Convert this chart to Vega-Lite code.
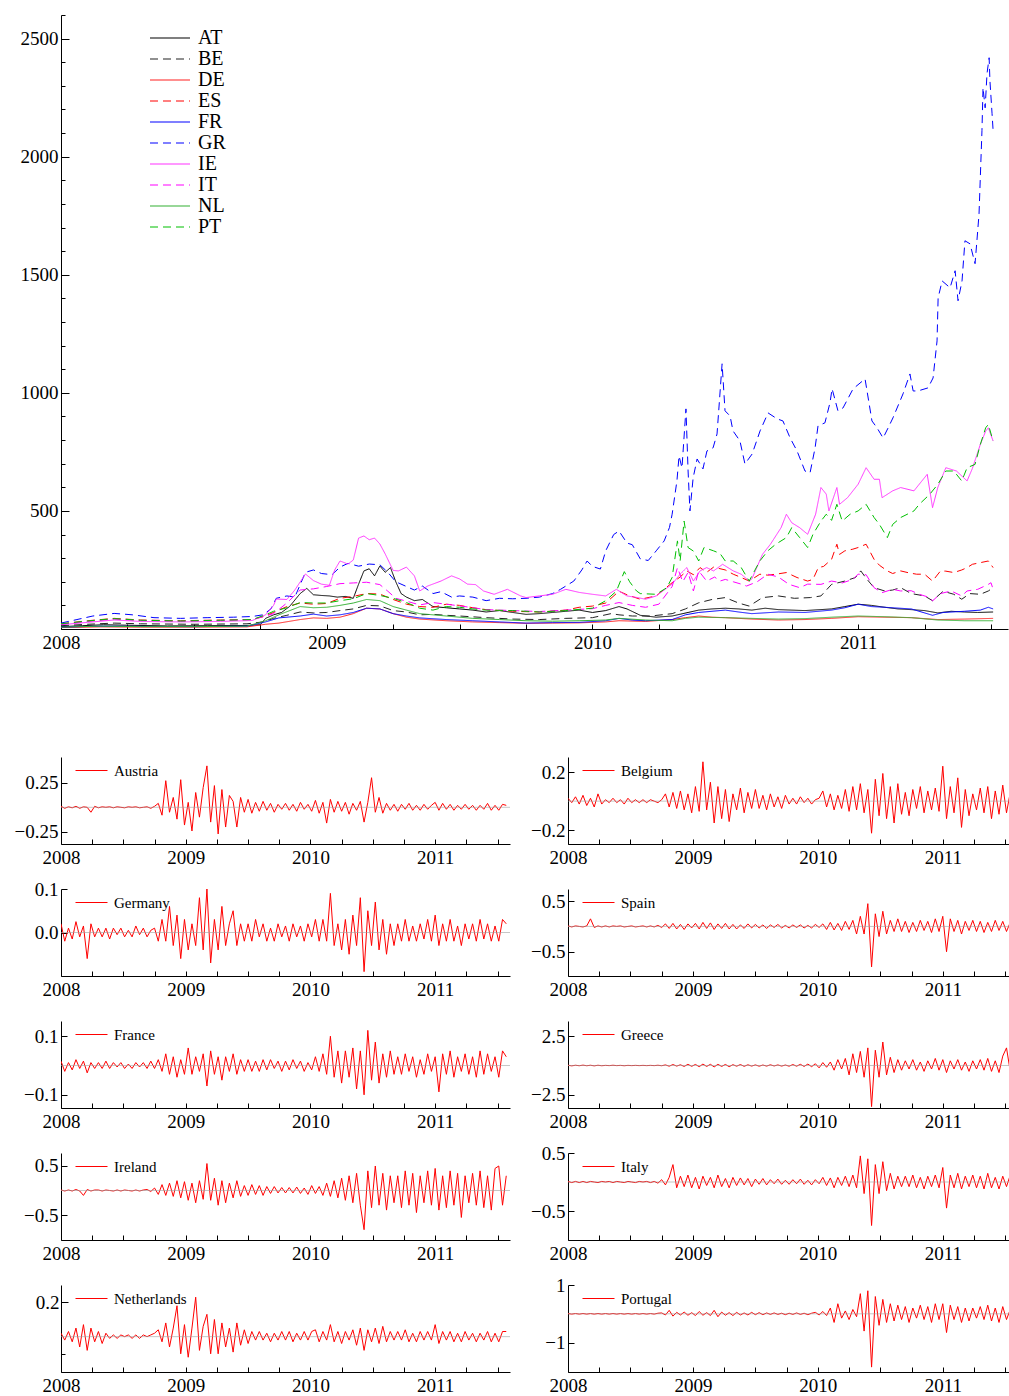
{
"$schema":"https://vega.github.io/schema/vega-lite/v6.json",
"padding":{"left":14,"top":6,"right":0,"bottom":2},
"config":{"font":"Liberation Serif","view":{"stroke":null},
 "axis":{"labelFont":"Liberation Serif","labelFontSize":19,"labelColor":"black","domainColor":"black","tickColor":"black","grid":false,"title":null,"labelFlush":false,"labelOverlap":false,"labelBound":false},
 "axisX":{"tickSize":-5,"labelPadding":9},
 "axisY":{"tickSize":-6,"labelPadding":9},
 "legend":{"orient":"none","legendX":14,"legendY":-3,"title":null,"symbolType":"stroke","symbolSize":1024,"symbolStrokeWidth":1,"labelFont":"Liberation Serif","labelFontSize":15,"labelColor":"black","labelOffset":6,"padding":0}
},
"datasets":{
"lv":[
{"s":"AT","t":2008,"v":10},{"s":"AT","t":2008.08,"v":14},{"s":"AT","t":2008.16,"v":18},{"s":"AT","t":2008.25,"v":16},{"s":"AT","t":2008.4,"v":13},{"s":"AT","t":2008.55,"v":14},{"s":"AT","t":2008.7,"v":15},{"s":"AT","t":2008.75,"v":18},{"s":"AT","t":2008.77,"v":45},{"s":"AT","t":2008.8,"v":60},{"s":"AT","t":2008.83,"v":70},{"s":"AT","t":2008.86,"v":95},{"s":"AT","t":2008.9,"v":150},{"s":"AT","t":2008.925,"v":172},{"s":"AT","t":2008.95,"v":145},{"s":"AT","t":2008.98,"v":142},{"s":"AT","t":2009.01,"v":140},{"s":"AT","t":2009.04,"v":135},{"s":"AT","t":2009.07,"v":138},{"s":"AT","t":2009.1,"v":130},{"s":"AT","t":2009.12,"v":190},{"s":"AT","t":2009.14,"v":246},{"s":"AT","t":2009.16,"v":255},{"s":"AT","t":2009.18,"v":225},{"s":"AT","t":2009.2,"v":267},{"s":"AT","t":2009.22,"v":240},{"s":"AT","t":2009.24,"v":260},{"s":"AT","t":2009.26,"v":200},{"s":"AT","t":2009.28,"v":150},{"s":"AT","t":2009.3,"v":135},{"s":"AT","t":2009.33,"v":120},{"s":"AT","t":2009.36,"v":125},{"s":"AT","t":2009.4,"v":95},{"s":"AT","t":2009.45,"v":90},{"s":"AT","t":2009.5,"v":85},{"s":"AT","t":2009.55,"v":80},{"s":"AT","t":2009.6,"v":72},{"s":"AT","t":2009.65,"v":78},{"s":"AT","t":2009.7,"v":70},{"s":"AT","t":2009.75,"v":62},{"s":"AT","t":2009.8,"v":65},{"s":"AT","t":2009.85,"v":70},{"s":"AT","t":2009.9,"v":75},{"s":"AT","t":2009.95,"v":80},{"s":"AT","t":2010,"v":70},{"s":"AT","t":2010.05,"v":78},{"s":"AT","t":2010.1,"v":95},{"s":"AT","t":2010.13,"v":85},{"s":"AT","t":2010.18,"v":58},{"s":"AT","t":2010.24,"v":50},{"s":"AT","t":2010.3,"v":55},{"s":"AT","t":2010.36,"v":70},{"s":"AT","t":2010.4,"v":80},{"s":"AT","t":2010.45,"v":85},{"s":"AT","t":2010.5,"v":88},{"s":"AT","t":2010.55,"v":85},{"s":"AT","t":2010.6,"v":80},{"s":"AT","t":2010.65,"v":88},{"s":"AT","t":2010.7,"v":82},{"s":"AT","t":2010.8,"v":78},{"s":"AT","t":2010.9,"v":85},{"s":"AT","t":2010.95,"v":95},{"s":"AT","t":2011,"v":105},{"s":"AT","t":2011.05,"v":100},{"s":"AT","t":2011.1,"v":92},{"s":"AT","t":2011.15,"v":85},{"s":"AT","t":2011.2,"v":82},{"s":"AT","t":2011.25,"v":78},{"s":"AT","t":2011.3,"v":68},{"s":"AT","t":2011.35,"v":75},{"s":"AT","t":2011.4,"v":72},{"s":"AT","t":2011.45,"v":70},{"s":"AT","t":2011.508,"v":72},
{"s":"BE","t":2008,"v":14},{"s":"BE","t":2008.1,"v":20},{"s":"BE","t":2008.2,"v":25},{"s":"BE","t":2008.3,"v":22},{"s":"BE","t":2008.5,"v":20},{"s":"BE","t":2008.7,"v":22},{"s":"BE","t":2008.76,"v":30},{"s":"BE","t":2008.8,"v":45},{"s":"BE","t":2008.85,"v":58},{"s":"BE","t":2008.9,"v":72},{"s":"BE","t":2008.95,"v":68},{"s":"BE","t":2009,"v":70},{"s":"BE","t":2009.05,"v":78},{"s":"BE","t":2009.1,"v":85},{"s":"BE","t":2009.15,"v":100},{"s":"BE","t":2009.2,"v":98},{"s":"BE","t":2009.25,"v":78},{"s":"BE","t":2009.3,"v":72},{"s":"BE","t":2009.35,"v":60},{"s":"BE","t":2009.4,"v":62},{"s":"BE","t":2009.45,"v":58},{"s":"BE","t":2009.5,"v":55},{"s":"BE","t":2009.6,"v":48},{"s":"BE","t":2009.7,"v":42},{"s":"BE","t":2009.8,"v":40},{"s":"BE","t":2009.9,"v":45},{"s":"BE","t":2010,"v":48},{"s":"BE","t":2010.07,"v":65},{"s":"BE","t":2010.1,"v":60},{"s":"BE","t":2010.15,"v":55},{"s":"BE","t":2010.22,"v":55},{"s":"BE","t":2010.3,"v":65},{"s":"BE","t":2010.35,"v":85},{"s":"BE","t":2010.4,"v":111},{"s":"BE","t":2010.45,"v":125},{"s":"BE","t":2010.5,"v":133},{"s":"BE","t":2010.55,"v":110},{"s":"BE","t":2010.59,"v":97},{"s":"BE","t":2010.64,"v":133},{"s":"BE","t":2010.7,"v":140},{"s":"BE","t":2010.76,"v":130},{"s":"BE","t":2010.82,"v":133},{"s":"BE","t":2010.86,"v":140},{"s":"BE","t":2010.9,"v":189},{"s":"BE","t":2010.95,"v":203},{"s":"BE","t":2010.99,"v":218},{"s":"BE","t":2011.01,"v":246},{"s":"BE","t":2011.03,"v":215},{"s":"BE","t":2011.06,"v":175},{"s":"BE","t":2011.1,"v":161},{"s":"BE","t":2011.13,"v":165},{"s":"BE","t":2011.16,"v":175},{"s":"BE","t":2011.2,"v":150},{"s":"BE","t":2011.25,"v":140},{"s":"BE","t":2011.28,"v":120},{"s":"BE","t":2011.32,"v":160},{"s":"BE","t":2011.36,"v":147},{"s":"BE","t":2011.39,"v":126},{"s":"BE","t":2011.42,"v":150},{"s":"BE","t":2011.46,"v":147},{"s":"BE","t":2011.49,"v":161},{"s":"BE","t":2011.508,"v":175},
{"s":"DE","t":2008,"v":6},{"s":"DE","t":2008.15,"v":9},{"s":"DE","t":2008.3,"v":8},{"s":"DE","t":2008.5,"v":8},{"s":"DE","t":2008.7,"v":9},{"s":"DE","t":2008.77,"v":20},{"s":"DE","t":2008.82,"v":25},{"s":"DE","t":2008.9,"v":40},{"s":"DE","t":2008.95,"v":47},{"s":"DE","t":2009,"v":45},{"s":"DE","t":2009.05,"v":50},{"s":"DE","t":2009.1,"v":65},{"s":"DE","t":2009.15,"v":88},{"s":"DE","t":2009.2,"v":85},{"s":"DE","t":2009.25,"v":65},{"s":"DE","t":2009.3,"v":50},{"s":"DE","t":2009.35,"v":42},{"s":"DE","t":2009.45,"v":35},{"s":"DE","t":2009.55,"v":30},{"s":"DE","t":2009.65,"v":27},{"s":"DE","t":2009.75,"v":24},{"s":"DE","t":2009.85,"v":25},{"s":"DE","t":2009.95,"v":26},{"s":"DE","t":2010.05,"v":30},{"s":"DE","t":2010.1,"v":35},{"s":"DE","t":2010.2,"v":32},{"s":"DE","t":2010.3,"v":40},{"s":"DE","t":2010.35,"v":48},{"s":"DE","t":2010.4,"v":55},{"s":"DE","t":2010.45,"v":50},{"s":"DE","t":2010.5,"v":48},{"s":"DE","t":2010.6,"v":42},{"s":"DE","t":2010.7,"v":38},{"s":"DE","t":2010.8,"v":40},{"s":"DE","t":2010.9,"v":45},{"s":"DE","t":2011,"v":52},{"s":"DE","t":2011.1,"v":50},{"s":"DE","t":2011.2,"v":48},{"s":"DE","t":2011.3,"v":40},{"s":"DE","t":2011.4,"v":42},{"s":"DE","t":2011.508,"v":45},
{"s":"ES","t":2008,"v":22},{"s":"ES","t":2008.1,"v":35},{"s":"ES","t":2008.2,"v":45},{"s":"ES","t":2008.3,"v":38},{"s":"ES","t":2008.45,"v":35},{"s":"ES","t":2008.6,"v":38},{"s":"ES","t":2008.72,"v":40},{"s":"ES","t":2008.77,"v":55},{"s":"ES","t":2008.8,"v":70},{"s":"ES","t":2008.85,"v":95},{"s":"ES","t":2008.9,"v":110},{"s":"ES","t":2008.95,"v":105},{"s":"ES","t":2009,"v":108},{"s":"ES","t":2009.05,"v":130},{"s":"ES","t":2009.1,"v":138},{"s":"ES","t":2009.15,"v":150},{"s":"ES","t":2009.2,"v":148},{"s":"ES","t":2009.25,"v":125},{"s":"ES","t":2009.3,"v":105},{"s":"ES","t":2009.35,"v":95},{"s":"ES","t":2009.4,"v":92},{"s":"ES","t":2009.45,"v":105},{"s":"ES","t":2009.5,"v":100},{"s":"ES","t":2009.55,"v":90},{"s":"ES","t":2009.6,"v":82},{"s":"ES","t":2009.7,"v":75},{"s":"ES","t":2009.8,"v":72},{"s":"ES","t":2009.9,"v":80},{"s":"ES","t":2009.95,"v":92},{"s":"ES","t":2010,"v":97},{"s":"ES","t":2010.05,"v":110},{"s":"ES","t":2010.1,"v":160},{"s":"ES","t":2010.13,"v":145},{"s":"ES","t":2010.18,"v":126},{"s":"ES","t":2010.24,"v":140},{"s":"ES","t":2010.3,"v":196},{"s":"ES","t":2010.33,"v":220},{"s":"ES","t":2010.355,"v":246},{"s":"ES","t":2010.38,"v":230},{"s":"ES","t":2010.405,"v":260},{"s":"ES","t":2010.43,"v":240},{"s":"ES","t":2010.456,"v":262},{"s":"ES","t":2010.5,"v":250},{"s":"ES","t":2010.53,"v":232},{"s":"ES","t":2010.56,"v":218},{"s":"ES","t":2010.59,"v":203},{"s":"ES","t":2010.63,"v":232},{"s":"ES","t":2010.66,"v":228},{"s":"ES","t":2010.69,"v":232},{"s":"ES","t":2010.73,"v":239},{"s":"ES","t":2010.77,"v":218},{"s":"ES","t":2010.81,"v":203},{"s":"ES","t":2010.83,"v":210},{"s":"ES","t":2010.85,"v":260},{"s":"ES","t":2010.87,"v":265},{"s":"ES","t":2010.9,"v":295},{"s":"ES","t":2010.92,"v":359},{"s":"ES","t":2010.93,"v":316},{"s":"ES","t":2010.95,"v":331},{"s":"ES","t":2010.98,"v":338},{"s":"ES","t":2011,"v":345},{"s":"ES","t":2011.03,"v":359},{"s":"ES","t":2011.06,"v":295},{"s":"ES","t":2011.08,"v":270},{"s":"ES","t":2011.11,"v":246},{"s":"ES","t":2011.13,"v":235},{"s":"ES","t":2011.16,"v":246},{"s":"ES","t":2011.19,"v":238},{"s":"ES","t":2011.22,"v":232},{"s":"ES","t":2011.25,"v":232},{"s":"ES","t":2011.28,"v":203},{"s":"ES","t":2011.31,"v":246},{"s":"ES","t":2011.33,"v":245},{"s":"ES","t":2011.36,"v":239},{"s":"ES","t":2011.39,"v":250},{"s":"ES","t":2011.41,"v":260},{"s":"ES","t":2011.43,"v":274},{"s":"ES","t":2011.46,"v":281},{"s":"ES","t":2011.49,"v":288},{"s":"ES","t":2011.508,"v":260},
{"s":"FR","t":2008,"v":8},{"s":"FR","t":2008.15,"v":12},{"s":"FR","t":2008.3,"v":11},{"s":"FR","t":2008.5,"v":10},{"s":"FR","t":2008.7,"v":12},{"s":"FR","t":2008.77,"v":30},{"s":"FR","t":2008.82,"v":47},{"s":"FR","t":2008.9,"v":55},{"s":"FR","t":2008.95,"v":63},{"s":"FR","t":2009,"v":55},{"s":"FR","t":2009.05,"v":60},{"s":"FR","t":2009.1,"v":70},{"s":"FR","t":2009.15,"v":88},{"s":"FR","t":2009.2,"v":85},{"s":"FR","t":2009.25,"v":65},{"s":"FR","t":2009.3,"v":55},{"s":"FR","t":2009.35,"v":47},{"s":"FR","t":2009.45,"v":40},{"s":"FR","t":2009.55,"v":35},{"s":"FR","t":2009.65,"v":30},{"s":"FR","t":2009.75,"v":25},{"s":"FR","t":2009.85,"v":27},{"s":"FR","t":2009.95,"v":28},{"s":"FR","t":2010.05,"v":35},{"s":"FR","t":2010.1,"v":45},{"s":"FR","t":2010.15,"v":38},{"s":"FR","t":2010.2,"v":35},{"s":"FR","t":2010.3,"v":40},{"s":"FR","t":2010.35,"v":60},{"s":"FR","t":2010.4,"v":70},{"s":"FR","t":2010.45,"v":75},{"s":"FR","t":2010.5,"v":80},{"s":"FR","t":2010.55,"v":72},{"s":"FR","t":2010.6,"v":65},{"s":"FR","t":2010.7,"v":72},{"s":"FR","t":2010.8,"v":70},{"s":"FR","t":2010.9,"v":80},{"s":"FR","t":2010.95,"v":90},{"s":"FR","t":2011,"v":105},{"s":"FR","t":2011.05,"v":95},{"s":"FR","t":2011.1,"v":92},{"s":"FR","t":2011.2,"v":85},{"s":"FR","t":2011.28,"v":58},{"s":"FR","t":2011.32,"v":70},{"s":"FR","t":2011.4,"v":75},{"s":"FR","t":2011.46,"v":80},{"s":"FR","t":2011.49,"v":92},{"s":"FR","t":2011.508,"v":85},
{"s":"GR","t":2008,"v":25},{"s":"GR","t":2008.06,"v":40},{"s":"GR","t":2008.12,"v":55},{"s":"GR","t":2008.2,"v":66},{"s":"GR","t":2008.27,"v":60},{"s":"GR","t":2008.35,"v":48},{"s":"GR","t":2008.45,"v":45},{"s":"GR","t":2008.55,"v":48},{"s":"GR","t":2008.65,"v":50},{"s":"GR","t":2008.72,"v":53},{"s":"GR","t":2008.76,"v":60},{"s":"GR","t":2008.79,"v":85},{"s":"GR","t":2008.81,"v":130},{"s":"GR","t":2008.85,"v":140},{"s":"GR","t":2008.88,"v":135},{"s":"GR","t":2008.92,"v":240},{"s":"GR","t":2008.95,"v":250},{"s":"GR","t":2008.98,"v":235},{"s":"GR","t":2009.02,"v":230},{"s":"GR","t":2009.05,"v":262},{"s":"GR","t":2009.08,"v":278},{"s":"GR","t":2009.12,"v":266},{"s":"GR","t":2009.16,"v":275},{"s":"GR","t":2009.2,"v":272},{"s":"GR","t":2009.23,"v":240},{"s":"GR","t":2009.26,"v":200},{"s":"GR","t":2009.3,"v":180},{"s":"GR","t":2009.33,"v":165},{"s":"GR","t":2009.36,"v":182},{"s":"GR","t":2009.4,"v":150},{"s":"GR","t":2009.43,"v":158},{"s":"GR","t":2009.47,"v":135},{"s":"GR","t":2009.5,"v":140},{"s":"GR","t":2009.55,"v":135},{"s":"GR","t":2009.6,"v":120},{"s":"GR","t":2009.65,"v":130},{"s":"GR","t":2009.7,"v":128},{"s":"GR","t":2009.75,"v":130},{"s":"GR","t":2009.8,"v":135},{"s":"GR","t":2009.85,"v":150},{"s":"GR","t":2009.88,"v":168},{"s":"GR","t":2009.93,"v":203},{"s":"GR","t":2009.96,"v":250},{"s":"GR","t":2009.98,"v":288},{"s":"GR","t":2010,"v":265},{"s":"GR","t":2010.03,"v":254},{"s":"GR","t":2010.05,"v":331},{"s":"GR","t":2010.08,"v":400},{"s":"GR","t":2010.1,"v":415},{"s":"GR","t":2010.13,"v":364},{"s":"GR","t":2010.15,"v":357},{"s":"GR","t":2010.18,"v":297},{"s":"GR","t":2010.21,"v":290},{"s":"GR","t":2010.24,"v":331},{"s":"GR","t":2010.27,"v":373},{"s":"GR","t":2010.29,"v":430},{"s":"GR","t":2010.3,"v":486},{"s":"GR","t":2010.318,"v":627},{"s":"GR","t":2010.326,"v":733},{"s":"GR","t":2010.337,"v":682},{"s":"GR","t":2010.352,"v":932},{"s":"GR","t":2010.36,"v":669},{"s":"GR","t":2010.367,"v":500},{"s":"GR","t":2010.379,"v":640},{"s":"GR","t":2010.394,"v":720},{"s":"GR","t":2010.416,"v":678},{"s":"GR","t":2010.431,"v":754},{"s":"GR","t":2010.454,"v":767},{"s":"GR","t":2010.469,"v":826},{"s":"GR","t":2010.488,"v":1123},{"s":"GR","t":2010.499,"v":924},{"s":"GR","t":2010.518,"v":902},{"s":"GR","t":2010.529,"v":839},{"s":"GR","t":2010.555,"v":797},{"s":"GR","t":2010.574,"v":699},{"s":"GR","t":2010.601,"v":741},{"s":"GR","t":2010.631,"v":839},{"s":"GR","t":2010.661,"v":915},{"s":"GR","t":2010.695,"v":890},{"s":"GR","t":2010.717,"v":881},{"s":"GR","t":2010.744,"v":809},{"s":"GR","t":2010.77,"v":754},{"s":"GR","t":2010.8,"v":669},{"s":"GR","t":2010.819,"v":661},{"s":"GR","t":2010.838,"v":767},{"s":"GR","t":2010.849,"v":860},{"s":"GR","t":2010.875,"v":873},{"s":"GR","t":2010.894,"v":958},{"s":"GR","t":2010.902,"v":1017},{"s":"GR","t":2010.924,"v":924},{"s":"GR","t":2010.943,"v":936},{"s":"GR","t":2010.981,"v":1017},{"s":"GR","t":2011.026,"v":1059},{"s":"GR","t":2011.052,"v":881},{"s":"GR","t":2011.071,"v":852},{"s":"GR","t":2011.094,"v":809},{"s":"GR","t":2011.113,"v":852},{"s":"GR","t":2011.131,"v":894},{"s":"GR","t":2011.169,"v":996},{"s":"GR","t":2011.195,"v":1080},{"s":"GR","t":2011.207,"v":1008},{"s":"GR","t":2011.225,"v":1008},{"s":"GR","t":2011.263,"v":1021},{"s":"GR","t":2011.282,"v":1063},{"s":"GR","t":2011.297,"v":1220},{"s":"GR","t":2011.301,"v":1402},{"s":"GR","t":2011.316,"v":1474},{"s":"GR","t":2011.346,"v":1445},{"s":"GR","t":2011.365,"v":1517},{"s":"GR","t":2011.376,"v":1390},{"s":"GR","t":2011.391,"v":1474},{"s":"GR","t":2011.402,"v":1644},{"s":"GR","t":2011.421,"v":1631},{"s":"GR","t":2011.44,"v":1547},{"s":"GR","t":2011.447,"v":1644},{"s":"GR","t":2011.455,"v":1758},{"s":"GR","t":2011.466,"v":2110},{"s":"GR","t":2011.47,"v":2292},{"s":"GR","t":2011.478,"v":2207},{"s":"GR","t":2011.485,"v":2352},{"s":"GR","t":2011.493,"v":2419},{"s":"GR","t":2011.496,"v":2322},{"s":"GR","t":2011.504,"v":2182},{"s":"GR","t":2011.508,"v":2110},
{"s":"IE","t":2008,"v":18},{"s":"IE","t":2008.1,"v":28},{"s":"IE","t":2008.2,"v":38},{"s":"IE","t":2008.3,"v":32},{"s":"IE","t":2008.45,"v":30},{"s":"IE","t":2008.6,"v":32},{"s":"IE","t":2008.72,"v":36},{"s":"IE","t":2008.77,"v":60},{"s":"IE","t":2008.8,"v":100},{"s":"IE","t":2008.81,"v":127},{"s":"IE","t":2008.85,"v":125},{"s":"IE","t":2008.88,"v":165},{"s":"IE","t":2008.92,"v":233},{"s":"IE","t":2008.95,"v":205},{"s":"IE","t":2008.98,"v":190},{"s":"IE","t":2009.01,"v":185},{"s":"IE","t":2009.03,"v":250},{"s":"IE","t":2009.05,"v":288},{"s":"IE","t":2009.08,"v":275},{"s":"IE","t":2009.1,"v":292},{"s":"IE","t":2009.12,"v":385},{"s":"IE","t":2009.14,"v":394},{"s":"IE","t":2009.16,"v":378},{"s":"IE","t":2009.18,"v":385},{"s":"IE","t":2009.2,"v":360},{"s":"IE","t":2009.22,"v":318},{"s":"IE","t":2009.25,"v":248},{"s":"IE","t":2009.27,"v":246},{"s":"IE","t":2009.3,"v":262},{"s":"IE","t":2009.33,"v":225},{"s":"IE","t":2009.35,"v":161},{"s":"IE","t":2009.38,"v":182},{"s":"IE","t":2009.43,"v":203},{"s":"IE","t":2009.47,"v":225},{"s":"IE","t":2009.5,"v":212},{"s":"IE","t":2009.53,"v":190},{"s":"IE","t":2009.56,"v":188},{"s":"IE","t":2009.59,"v":161},{"s":"IE","t":2009.63,"v":147},{"s":"IE","t":2009.68,"v":168},{"s":"IE","t":2009.73,"v":140},{"s":"IE","t":2009.75,"v":133},{"s":"IE","t":2009.8,"v":140},{"s":"IE","t":2009.85,"v":147},{"s":"IE","t":2009.9,"v":168},{"s":"IE","t":2009.95,"v":155},{"s":"IE","t":2010,"v":147},{"s":"IE","t":2010.05,"v":140},{"s":"IE","t":2010.09,"v":168},{"s":"IE","t":2010.13,"v":140},{"s":"IE","t":2010.17,"v":133},{"s":"IE","t":2010.2,"v":126},{"s":"IE","t":2010.24,"v":140},{"s":"IE","t":2010.3,"v":190},{"s":"IE","t":2010.33,"v":232},{"s":"IE","t":2010.355,"v":260},{"s":"IE","t":2010.38,"v":203},{"s":"IE","t":2010.405,"v":246},{"s":"IE","t":2010.43,"v":260},{"s":"IE","t":2010.456,"v":246},{"s":"IE","t":2010.49,"v":274},{"s":"IE","t":2010.53,"v":246},{"s":"IE","t":2010.56,"v":232},{"s":"IE","t":2010.59,"v":203},{"s":"IE","t":2010.6,"v":212},{"s":"IE","t":2010.64,"v":316},{"s":"IE","t":2010.67,"v":359},{"s":"IE","t":2010.71,"v":429},{"s":"IE","t":2010.73,"v":486},{"s":"IE","t":2010.75,"v":450},{"s":"IE","t":2010.78,"v":429},{"s":"IE","t":2010.81,"v":401},{"s":"IE","t":2010.84,"v":486},{"s":"IE","t":2010.86,"v":599},{"s":"IE","t":2010.88,"v":571},{"s":"IE","t":2010.89,"v":500},{"s":"IE","t":2010.92,"v":599},{"s":"IE","t":2010.93,"v":528},{"s":"IE","t":2010.96,"v":556},{"s":"IE","t":2011,"v":613},{"s":"IE","t":2011.03,"v":683},{"s":"IE","t":2011.06,"v":634},{"s":"IE","t":2011.08,"v":634},{"s":"IE","t":2011.09,"v":556},{"s":"IE","t":2011.13,"v":585},{"s":"IE","t":2011.16,"v":599},{"s":"IE","t":2011.21,"v":585},{"s":"IE","t":2011.24,"v":627},{"s":"IE","t":2011.26,"v":655},{"s":"IE","t":2011.28,"v":514},{"s":"IE","t":2011.3,"v":600},{"s":"IE","t":2011.33,"v":683},{"s":"IE","t":2011.37,"v":669},{"s":"IE","t":2011.41,"v":627},{"s":"IE","t":2011.43,"v":680},{"s":"IE","t":2011.46,"v":782},{"s":"IE","t":2011.48,"v":838},{"s":"IE","t":2011.49,"v":852},{"s":"IE","t":2011.508,"v":796},
{"s":"IT","t":2008,"v":20},{"s":"IT","t":2008.1,"v":32},{"s":"IT","t":2008.2,"v":42},{"s":"IT","t":2008.3,"v":36},{"s":"IT","t":2008.45,"v":33},{"s":"IT","t":2008.6,"v":36},{"s":"IT","t":2008.72,"v":40},{"s":"IT","t":2008.77,"v":55},{"s":"IT","t":2008.8,"v":65},{"s":"IT","t":2008.85,"v":110},{"s":"IT","t":2008.9,"v":165},{"s":"IT","t":2008.95,"v":170},{"s":"IT","t":2009,"v":180},{"s":"IT","t":2009.05,"v":192},{"s":"IT","t":2009.1,"v":195},{"s":"IT","t":2009.15,"v":198},{"s":"IT","t":2009.2,"v":188},{"s":"IT","t":2009.23,"v":160},{"s":"IT","t":2009.26,"v":130},{"s":"IT","t":2009.3,"v":118},{"s":"IT","t":2009.35,"v":102},{"s":"IT","t":2009.4,"v":112},{"s":"IT","t":2009.45,"v":105},{"s":"IT","t":2009.5,"v":98},{"s":"IT","t":2009.55,"v":90},{"s":"IT","t":2009.6,"v":82},{"s":"IT","t":2009.7,"v":78},{"s":"IT","t":2009.8,"v":74},{"s":"IT","t":2009.9,"v":80},{"s":"IT","t":2010,"v":86},{"s":"IT","t":2010.05,"v":100},{"s":"IT","t":2010.1,"v":112},{"s":"IT","t":2010.15,"v":100},{"s":"IT","t":2010.2,"v":92},{"s":"IT","t":2010.25,"v":105},{"s":"IT","t":2010.3,"v":180},{"s":"IT","t":2010.32,"v":260},{"s":"IT","t":2010.34,"v":200},{"s":"IT","t":2010.36,"v":240},{"s":"IT","t":2010.38,"v":161},{"s":"IT","t":2010.4,"v":246},{"s":"IT","t":2010.43,"v":203},{"s":"IT","t":2010.46,"v":220},{"s":"IT","t":2010.48,"v":203},{"s":"IT","t":2010.5,"v":210},{"s":"IT","t":2010.53,"v":200},{"s":"IT","t":2010.56,"v":190},{"s":"IT","t":2010.58,"v":182},{"s":"IT","t":2010.62,"v":200},{"s":"IT","t":2010.66,"v":232},{"s":"IT","t":2010.7,"v":220},{"s":"IT","t":2010.74,"v":189},{"s":"IT","t":2010.78,"v":175},{"s":"IT","t":2010.81,"v":190},{"s":"IT","t":2010.86,"v":189},{"s":"IT","t":2010.9,"v":203},{"s":"IT","t":2010.94,"v":195},{"s":"IT","t":2010.98,"v":210},{"s":"IT","t":2011,"v":232},{"s":"IT","t":2011.03,"v":230},{"s":"IT","t":2011.06,"v":175},{"s":"IT","t":2011.09,"v":154},{"s":"IT","t":2011.13,"v":168},{"s":"IT","t":2011.16,"v":161},{"s":"IT","t":2011.2,"v":162},{"s":"IT","t":2011.23,"v":147},{"s":"IT","t":2011.27,"v":133},{"s":"IT","t":2011.28,"v":119},{"s":"IT","t":2011.31,"v":150},{"s":"IT","t":2011.35,"v":161},{"s":"IT","t":2011.39,"v":140},{"s":"IT","t":2011.41,"v":161},{"s":"IT","t":2011.45,"v":168},{"s":"IT","t":2011.49,"v":189},{"s":"IT","t":2011.5,"v":196},{"s":"IT","t":2011.508,"v":168},
{"s":"NL","t":2008,"v":8},{"s":"NL","t":2008.15,"v":12},{"s":"NL","t":2008.3,"v":10},{"s":"NL","t":2008.5,"v":10},{"s":"NL","t":2008.7,"v":12},{"s":"NL","t":2008.77,"v":35},{"s":"NL","t":2008.82,"v":60},{"s":"NL","t":2008.9,"v":95},{"s":"NL","t":2008.95,"v":90},{"s":"NL","t":2009,"v":92},{"s":"NL","t":2009.05,"v":100},{"s":"NL","t":2009.1,"v":110},{"s":"NL","t":2009.15,"v":125},{"s":"NL","t":2009.2,"v":120},{"s":"NL","t":2009.25,"v":95},{"s":"NL","t":2009.3,"v":80},{"s":"NL","t":2009.35,"v":65},{"s":"NL","t":2009.45,"v":55},{"s":"NL","t":2009.55,"v":45},{"s":"NL","t":2009.65,"v":40},{"s":"NL","t":2009.75,"v":35},{"s":"NL","t":2009.85,"v":33},{"s":"NL","t":2009.95,"v":35},{"s":"NL","t":2010.05,"v":38},{"s":"NL","t":2010.1,"v":45},{"s":"NL","t":2010.2,"v":38},{"s":"NL","t":2010.3,"v":35},{"s":"NL","t":2010.35,"v":45},{"s":"NL","t":2010.4,"v":50},{"s":"NL","t":2010.5,"v":48},{"s":"NL","t":2010.6,"v":45},{"s":"NL","t":2010.7,"v":42},{"s":"NL","t":2010.8,"v":44},{"s":"NL","t":2010.9,"v":50},{"s":"NL","t":2011,"v":55},{"s":"NL","t":2011.1,"v":52},{"s":"NL","t":2011.2,"v":48},{"s":"NL","t":2011.3,"v":38},{"s":"NL","t":2011.4,"v":35},{"s":"NL","t":2011.508,"v":35},
{"s":"PT","t":2008,"v":22},{"s":"PT","t":2008.1,"v":34},{"s":"PT","t":2008.2,"v":44},{"s":"PT","t":2008.3,"v":37},{"s":"PT","t":2008.45,"v":34},{"s":"PT","t":2008.6,"v":37},{"s":"PT","t":2008.72,"v":40},{"s":"PT","t":2008.77,"v":60},{"s":"PT","t":2008.8,"v":75},{"s":"PT","t":2008.85,"v":90},{"s":"PT","t":2008.9,"v":112},{"s":"PT","t":2008.95,"v":110},{"s":"PT","t":2009,"v":110},{"s":"PT","t":2009.05,"v":120},{"s":"PT","t":2009.1,"v":128},{"s":"PT","t":2009.15,"v":150},{"s":"PT","t":2009.2,"v":142},{"s":"PT","t":2009.25,"v":130},{"s":"PT","t":2009.3,"v":112},{"s":"PT","t":2009.35,"v":88},{"s":"PT","t":2009.4,"v":80},{"s":"PT","t":2009.45,"v":95},{"s":"PT","t":2009.5,"v":92},{"s":"PT","t":2009.55,"v":85},{"s":"PT","t":2009.6,"v":80},{"s":"PT","t":2009.7,"v":78},{"s":"PT","t":2009.8,"v":72},{"s":"PT","t":2009.9,"v":78},{"s":"PT","t":2010,"v":88},{"s":"PT","t":2010.05,"v":120},{"s":"PT","t":2010.09,"v":160},{"s":"PT","t":2010.12,"v":243},{"s":"PT","t":2010.14,"v":200},{"s":"PT","t":2010.166,"v":161},{"s":"PT","t":2010.18,"v":150},{"s":"PT","t":2010.24,"v":147},{"s":"PT","t":2010.28,"v":175},{"s":"PT","t":2010.3,"v":218},{"s":"PT","t":2010.32,"v":373},{"s":"PT","t":2010.33,"v":288},{"s":"PT","t":2010.345,"v":457},{"s":"PT","t":2010.36,"v":345},{"s":"PT","t":2010.38,"v":330},{"s":"PT","t":2010.4,"v":288},{"s":"PT","t":2010.42,"v":345},{"s":"PT","t":2010.456,"v":331},{"s":"PT","t":2010.48,"v":320},{"s":"PT","t":2010.5,"v":288},{"s":"PT","t":2010.53,"v":288},{"s":"PT","t":2010.56,"v":260},{"s":"PT","t":2010.59,"v":203},{"s":"PT","t":2010.61,"v":246},{"s":"PT","t":2010.63,"v":288},{"s":"PT","t":2010.66,"v":331},{"s":"PT","t":2010.69,"v":359},{"s":"PT","t":2010.73,"v":387},{"s":"PT","t":2010.75,"v":429},{"s":"PT","t":2010.78,"v":387},{"s":"PT","t":2010.81,"v":345},{"s":"PT","t":2010.83,"v":401},{"s":"PT","t":2010.86,"v":457},{"s":"PT","t":2010.88,"v":486},{"s":"PT","t":2010.9,"v":460},{"s":"PT","t":2010.92,"v":528},{"s":"PT","t":2010.94,"v":457},{"s":"PT","t":2010.97,"v":486},{"s":"PT","t":2011,"v":500},{"s":"PT","t":2011.03,"v":528},{"s":"PT","t":2011.06,"v":472},{"s":"PT","t":2011.08,"v":443},{"s":"PT","t":2011.11,"v":387},{"s":"PT","t":2011.13,"v":443},{"s":"PT","t":2011.16,"v":472},{"s":"PT","t":2011.21,"v":500},{"s":"PT","t":2011.23,"v":528},{"s":"PT","t":2011.27,"v":571},{"s":"PT","t":2011.3,"v":613},{"s":"PT","t":2011.33,"v":669},{"s":"PT","t":2011.36,"v":669},{"s":"PT","t":2011.39,"v":627},{"s":"PT","t":2011.41,"v":683},{"s":"PT","t":2011.44,"v":697},{"s":"PT","t":2011.46,"v":782},{"s":"PT","t":2011.48,"v":852},{"s":"PT","t":2011.49,"v":866},{"s":"PT","t":2011.508,"v":796}
],
"rt":[
{"t":2008,"AT":0.01,"BE":0.02,"DE":0.02,"ES":0.01,"FR":0.015,"GR":0.02,"IE":0.01,"IT":0.01,"NL":0.02,"PT":0.01},
{"t":2008.03,"AT":-0.01,"BE":-0.01,"DE":-0.02,"ES":-0.01,"FR":-0.02,"GR":-0.03,"IE":-0.01,"IT":-0.01,"NL":-0.02,"PT":-0.01},
{"t":2008.06,"AT":0.005,"BE":0.03,"DE":0.01,"ES":0.01,"FR":0.01,"GR":0.02,"IE":0.01,"IT":0.01,"NL":0.03,"PT":0.01},
{"t":2008.09,"AT":-0.005,"BE":-0.02,"DE":-0.015,"ES":0,"FR":-0.015,"GR":-0.02,"IE":-0.01,"IT":-0.01,"NL":-0.03,"PT":-0.01},
{"t":2008.12,"AT":0.01,"BE":0.04,"DE":0.025,"ES":-0.01,"FR":0.02,"GR":0.03,"IE":0.02,"IT":0.01,"NL":0.05,"PT":0.01},
{"t":2008.15,"AT":-0.01,"BE":-0.03,"DE":-0.01,"ES":0.01,"FR":-0.01,"GR":-0.02,"IE":-0.01,"IT":-0.01,"NL":-0.06,"PT":-0.01},
{"t":2008.18,"AT":0.005,"BE":0.02,"DE":0.015,"ES":0.15,"FR":0.015,"GR":0.02,"IE":-0.1,"IT":0.01,"NL":0.07,"PT":0.01},
{"t":2008.21,"AT":0,"BE":-0.04,"DE":-0.06,"ES":-0.02,"FR":-0.025,"GR":-0.03,"IE":0.02,"IT":0,"NL":-0.08,"PT":-0.01},
{"t":2008.24,"AT":-0.05,"BE":0.05,"DE":0.02,"ES":0.01,"FR":0.01,"GR":0.02,"IE":-0.01,"IT":-0.01,"NL":0.05,"PT":0.01},
{"t":2008.27,"AT":0.01,"BE":-0.02,"DE":-0.01,"ES":-0.01,"FR":-0.01,"GR":-0.02,"IE":0.01,"IT":0.01,"NL":-0.03,"PT":-0.01},
{"t":2008.3,"AT":-0.005,"BE":0.01,"DE":0.01,"ES":0.01,"FR":0.01,"GR":0.01,"IE":0.01,"IT":0,"NL":0.03,"PT":0.01},
{"t":2008.33,"AT":0.005,"BE":-0.01,"DE":-0.01,"ES":-0.01,"FR":-0.01,"GR":-0.01,"IE":-0.01,"IT":0.01,"NL":-0.04,"PT":-0.01},
{"t":2008.36,"AT":0,"BE":0.02,"DE":0.01,"ES":0.01,"FR":0.015,"GR":0.02,"IE":0.01,"IT":-0.01,"NL":0.02,"PT":0.01},
{"t":2008.39,"AT":0.005,"BE":-0.01,"DE":-0.015,"ES":0,"FR":-0.01,"GR":-0.01,"IE":0,"IT":0.01,"NL":-0.01,"PT":-0.01},
{"t":2008.42,"AT":-0.005,"BE":0.01,"DE":0.01,"ES":0.01,"FR":0.01,"GR":0.01,"IE":-0.01,"IT":0,"NL":0.01,"PT":0.01},
{"t":2008.45,"AT":0.005,"BE":-0.02,"DE":-0.005,"ES":-0.01,"FR":-0.005,"GR":-0.02,"IE":0.01,"IT":-0.01,"NL":-0.01,"PT":-0.01},
{"t":2008.48,"AT":0,"BE":0.02,"DE":0.01,"ES":0,"FR":0.01,"GR":0.01,"IE":-0.01,"IT":0.01,"NL":0.01,"PT":0.01},
{"t":2008.51,"AT":-0.005,"BE":-0.01,"DE":-0.01,"ES":0.01,"FR":-0.01,"GR":-0.01,"IE":0.01,"IT":0,"NL":0,"PT":-0.01},
{"t":2008.54,"AT":0.005,"BE":0.01,"DE":0.005,"ES":-0.01,"FR":0.005,"GR":0.01,"IE":0,"IT":-0.01,"NL":0.01,"PT":0.01},
{"t":2008.57,"AT":0,"BE":-0.01,"DE":-0.01,"ES":0,"FR":-0.01,"GR":-0.01,"IE":-0.01,"IT":0.01,"NL":-0.01,"PT":-0.01},
{"t":2008.6,"AT":0.005,"BE":0.01,"DE":0.015,"ES":0.01,"FR":0.01,"GR":0.01,"IE":0.01,"IT":0,"NL":0.01,"PT":0.01},
{"t":2008.63,"AT":-0.005,"BE":-0.01,"DE":-0.005,"ES":-0.01,"FR":-0.005,"GR":-0.01,"IE":-0.01,"IT":0.01,"NL":-0.01,"PT":-0.01},
{"t":2008.66,"AT":0,"BE":0.01,"DE":0.01,"ES":0.01,"FR":0.01,"GR":0.01,"IE":0.01,"IT":-0.01,"NL":0.01,"PT":0.01},
{"t":2008.69,"AT":0.005,"BE":0,"DE":-0.01,"ES":-0.01,"FR":-0.01,"GR":-0.01,"IE":0.02,"IT":0.01,"NL":0,"PT":-0.01},
{"t":2008.72,"AT":-0.01,"BE":-0.01,"DE":0.005,"ES":0.02,"FR":0.015,"GR":0.02,"IE":-0.02,"IT":-0.02,"NL":0.01,"PT":0.02},
{"t":2008.75,"AT":0.01,"BE":0.01,"DE":0.01,"ES":-0.02,"FR":-0.01,"GR":-0.02,"IE":0.05,"IT":0.04,"NL":0.02,"PT":0.03},
{"t":2008.78,"AT":0.04,"BE":0.05,"DE":-0.02,"ES":0.05,"FR":0.02,"GR":0.05,"IE":-0.08,"IT":-0.05,"NL":0.04,"PT":-0.04},
{"t":2008.81,"AT":-0.08,"BE":-0.04,"DE":0.03,"ES":-0.04,"FR":-0.02,"GR":-0.06,"IE":0.12,"IT":0.08,"NL":-0.03,"PT":0.12},
{"t":2008.84,"AT":0.27,"BE":0.06,"DE":-0.02,"ES":0.06,"FR":0.04,"GR":0.08,"IE":-0.1,"IT":0.3,"NL":0.08,"PT":-0.08},
{"t":2008.87,"AT":-0.05,"BE":-0.05,"DE":0.06,"ES":-0.05,"FR":-0.03,"GR":-0.05,"IE":0.15,"IT":-0.1,"NL":-0.06,"PT":0.05},
{"t":2008.9,"AT":0.1,"BE":0.07,"DE":-0.03,"ES":0.04,"FR":0.03,"GR":0.06,"IE":-0.12,"IT":0.1,"NL":0.05,"PT":-0.04},
{"t":2008.93,"AT":-0.12,"BE":-0.06,"DE":0.04,"ES":-0.06,"FR":-0.04,"GR":-0.08,"IE":0.2,"IT":-0.08,"NL":0.18,"PT":0.06},
{"t":2008.96,"AT":0.28,"BE":0.05,"DE":-0.06,"ES":0.05,"FR":0.02,"GR":0.1,"IE":-0.15,"IT":0.12,"NL":-0.1,"PT":-0.05},
{"t":2008.99,"AT":-0.18,"BE":-0.08,"DE":0.03,"ES":-0.03,"FR":-0.03,"GR":-0.07,"IE":0.18,"IT":-0.1,"NL":0.07,"PT":0.04},
{"t":2009.02,"AT":0.05,"BE":0.1,"DE":-0.04,"ES":0.06,"FR":0.06,"GR":0.09,"IE":-0.2,"IT":0.08,"NL":-0.12,"PT":-0.06},
{"t":2009.05,"AT":-0.24,"BE":-0.07,"DE":0.02,"ES":-0.05,"FR":-0.03,"GR":-0.1,"IE":0.15,"IT":-0.12,"NL":0.05,"PT":0.08},
{"t":2009.08,"AT":0.15,"BE":0.27,"DE":-0.03,"ES":0.08,"FR":0.03,"GR":0.12,"IE":-0.25,"IT":0.1,"NL":0.23,"PT":-0.05},
{"t":2009.11,"AT":-0.1,"BE":-0.06,"DE":0.08,"ES":-0.04,"FR":-0.02,"GR":-0.08,"IE":0.2,"IT":-0.06,"NL":-0.08,"PT":0.04},
{"t":2009.14,"AT":0.2,"BE":0.13,"DE":-0.04,"ES":0.07,"FR":0.04,"GR":0.1,"IE":-0.18,"IT":0.08,"NL":0.06,"PT":-0.06},
{"t":2009.17,"AT":0.42,"BE":-0.15,"DE":0.1,"ES":-0.06,"FR":-0.07,"GR":-0.12,"IE":0.55,"IT":-0.1,"NL":0.13,"PT":0.12},
{"t":2009.2,"AT":-0.15,"BE":0.1,"DE":-0.07,"ES":0.05,"FR":0.05,"GR":0.1,"IE":-0.2,"IT":0.12,"NL":-0.1,"PT":-0.1},
{"t":2009.23,"AT":0.22,"BE":-0.12,"DE":0.03,"ES":-0.04,"FR":-0.03,"GR":-0.08,"IE":0.25,"IT":-0.08,"NL":0.1,"PT":0.06},
{"t":2009.26,"AT":-0.27,"BE":0.08,"DE":-0.04,"ES":0.06,"FR":0.03,"GR":0.09,"IE":-0.3,"IT":0.06,"NL":-0.1,"PT":-0.05},
{"t":2009.29,"AT":0.18,"BE":-0.14,"DE":0.06,"ES":-0.05,"FR":-0.05,"GR":-0.1,"IE":0.2,"IT":-0.1,"NL":0.08,"PT":0.04},
{"t":2009.32,"AT":-0.2,"BE":0.05,"DE":-0.03,"ES":0.04,"FR":0.03,"GR":0.07,"IE":-0.25,"IT":0.08,"NL":-0.06,"PT":-0.06},
{"t":2009.35,"AT":0.12,"BE":-0.06,"DE":0.02,"ES":-0.05,"FR":-0.02,"GR":-0.06,"IE":0.15,"IT":-0.06,"NL":0.05,"PT":0.05},
{"t":2009.38,"AT":0.06,"BE":0.09,"DE":0.05,"ES":0.03,"FR":0.04,"GR":0.08,"IE":-0.15,"IT":0.07,"NL":-0.09,"PT":-0.04},
{"t":2009.41,"AT":-0.2,"BE":-0.08,"DE":-0.03,"ES":-0.04,"FR":-0.03,"GR":-0.07,"IE":0.2,"IT":-0.05,"NL":0.08,"PT":0.03},
{"t":2009.44,"AT":0.1,"BE":0.06,"DE":0.02,"ES":0.05,"FR":0.02,"GR":0.06,"IE":-0.12,"IT":0.06,"NL":-0.05,"PT":-0.04},
{"t":2009.47,"AT":-0.05,"BE":-0.05,"DE":-0.02,"ES":-0.03,"FR":-0.02,"GR":-0.05,"IE":0.1,"IT":-0.08,"NL":0.04,"PT":0.05},
{"t":2009.5,"AT":0.08,"BE":0.08,"DE":0.02,"ES":0.04,"FR":0.02,"GR":0.05,"IE":-0.1,"IT":0.05,"NL":-0.04,"PT":-0.03},
{"t":2009.53,"AT":-0.06,"BE":-0.05,"DE":-0.02,"ES":-0.03,"FR":-0.02,"GR":-0.06,"IE":0.12,"IT":-0.04,"NL":0.03,"PT":0.04},
{"t":2009.56,"AT":0.05,"BE":0.04,"DE":0.03,"ES":0.03,"FR":0.015,"GR":0.04,"IE":-0.08,"IT":0.06,"NL":-0.02,"PT":-0.03},
{"t":2009.59,"AT":-0.04,"BE":-0.06,"DE":-0.01,"ES":-0.04,"FR":-0.02,"GR":-0.05,"IE":0.1,"IT":-0.05,"NL":0.03,"PT":0.03},
{"t":2009.62,"AT":0.06,"BE":0.05,"DE":0.02,"ES":0.03,"FR":0.02,"GR":0.06,"IE":-0.1,"IT":0.04,"NL":-0.02,"PT":-0.02},
{"t":2009.65,"AT":-0.03,"BE":-0.04,"DE":-0.02,"ES":-0.02,"FR":-0.015,"GR":-0.04,"IE":0.08,"IT":-0.03,"NL":0.02,"PT":0.03},
{"t":2009.68,"AT":0.04,"BE":0.03,"DE":0.01,"ES":0.04,"FR":0.02,"GR":0.05,"IE":-0.06,"IT":0.05,"NL":-0.03,"PT":-0.02},
{"t":2009.71,"AT":-0.05,"BE":-0.05,"DE":-0.02,"ES":-0.03,"FR":-0.01,"GR":-0.05,"IE":0.08,"IT":-0.04,"NL":0.02,"PT":0.02},
{"t":2009.74,"AT":0.03,"BE":0.04,"DE":0.02,"ES":0.02,"FR":0.015,"GR":0.04,"IE":-0.05,"IT":0.03,"NL":-0.02,"PT":-0.03},
{"t":2009.77,"AT":-0.02,"BE":-0.02,"DE":-0.01,"ES":-0.03,"FR":-0.02,"GR":-0.06,"IE":0.06,"IT":-0.04,"NL":0.03,"PT":0.02},
{"t":2009.8,"AT":0.04,"BE":0.02,"DE":0.015,"ES":0.03,"FR":0.015,"GR":0.08,"IE":-0.05,"IT":0.04,"NL":-0.02,"PT":-0.02},
{"t":2009.83,"AT":-0.03,"BE":-0.02,"DE":-0.02,"ES":-0.02,"FR":-0.015,"GR":-0.06,"IE":0.06,"IT":-0.03,"NL":0.03,"PT":0.03},
{"t":2009.86,"AT":0.03,"BE":0.03,"DE":0.02,"ES":0.03,"FR":0.02,"GR":0.1,"IE":-0.05,"IT":0.05,"NL":-0.03,"PT":-0.02},
{"t":2009.89,"AT":-0.04,"BE":-0.01,"DE":-0.01,"ES":-0.03,"FR":-0.01,"GR":-0.08,"IE":0.07,"IT":-0.04,"NL":0.02,"PT":0.02},
{"t":2009.92,"AT":0.05,"BE":0.02,"DE":0.015,"ES":0.02,"FR":0.015,"GR":0.12,"IE":-0.06,"IT":0.03,"NL":-0.02,"PT":-0.03},
{"t":2009.95,"AT":-0.02,"BE":-0.02,"DE":-0.02,"ES":-0.03,"FR":-0.02,"GR":-0.1,"IE":0.05,"IT":-0.05,"NL":0.03,"PT":0.02},
{"t":2009.98,"AT":0.03,"BE":0.01,"DE":0.02,"ES":0.04,"FR":0.01,"GR":0.15,"IE":-0.08,"IT":0.04,"NL":-0.02,"PT":0.05},
{"t":2010.01,"AT":-0.04,"BE":0.02,"DE":-0.01,"ES":-0.02,"FR":-0.015,"GR":-0.2,"IE":0.1,"IT":-0.03,"NL":0.03,"PT":-0.04},
{"t":2010.04,"AT":0.07,"BE":0.07,"DE":0.03,"ES":0.05,"FR":0.03,"GR":0.25,"IE":-0.06,"IT":0.08,"NL":0.04,"PT":0.08},
{"t":2010.07,"AT":-0.06,"BE":-0.04,"DE":-0.02,"ES":-0.06,"FR":-0.02,"GR":-0.15,"IE":0.08,"IT":-0.06,"NL":-0.03,"PT":-0.06},
{"t":2010.1,"AT":0.05,"BE":0.05,"DE":0.03,"ES":0.08,"FR":0.04,"GR":0.3,"IE":-0.1,"IT":0.07,"NL":0.03,"PT":0.2},
{"t":2010.13,"AT":-0.16,"BE":-0.06,"DE":-0.02,"ES":-0.07,"FR":-0.03,"GR":-0.4,"IE":0.15,"IT":-0.1,"NL":-0.02,"PT":-0.3},
{"t":2010.16,"AT":0.08,"BE":0.04,"DE":0.09,"ES":0.06,"FR":0.1,"GR":0.5,"IE":-0.12,"IT":0.08,"NL":0.07,"PT":0.35},
{"t":2010.19,"AT":-0.05,"BE":-0.05,"DE":-0.03,"ES":-0.08,"FR":-0.04,"GR":-0.3,"IE":0.2,"IT":-0.06,"NL":-0.03,"PT":-0.15},
{"t":2010.22,"AT":0.06,"BE":0.08,"DE":0.02,"ES":0.1,"FR":0.05,"GR":0.6,"IE":-0.15,"IT":0.1,"NL":0.03,"PT":0.1},
{"t":2010.25,"AT":-0.04,"BE":-0.07,"DE":-0.04,"ES":-0.06,"FR":-0.06,"GR":-0.8,"IE":0.25,"IT":-0.08,"NL":-0.04,"PT":-0.2},
{"t":2010.28,"AT":0.05,"BE":0.1,"DE":0.03,"ES":0.12,"FR":0.05,"GR":1.0,"IE":-0.2,"IT":0.12,"NL":0.03,"PT":0.15},
{"t":2010.31,"AT":-0.07,"BE":-0.06,"DE":-0.05,"ES":-0.15,"FR":-0.04,"GR":-0.6,"IE":0.3,"IT":-0.1,"NL":-0.02,"PT":-0.1},
{"t":2010.34,"AT":0.04,"BE":0.12,"DE":0.04,"ES":0.2,"FR":0.06,"GR":1.2,"IE":-0.25,"IT":0.45,"NL":0.04,"PT":0.7},
{"t":2010.37,"AT":-0.03,"BE":-0.08,"DE":-0.03,"ES":-0.15,"FR":-0.08,"GR":-1.0,"IE":0.35,"IT":-0.2,"NL":-0.05,"PT":-0.6},
{"t":2010.4,"AT":0.06,"BE":0.08,"DE":0.08,"ES":0.45,"FR":0.05,"GR":1.5,"IE":-0.3,"IT":0.4,"NL":0.05,"PT":0.8},
{"t":2010.43,"AT":-0.15,"BE":-0.22,"DE":-0.09,"ES":-0.8,"FR":-0.1,"GR":-3.5,"IE":-0.8,"IT":-0.75,"NL":-0.08,"PT":-1.85},
{"t":2010.46,"AT":0.05,"BE":0.15,"DE":0.05,"ES":0.25,"FR":0.12,"GR":1.3,"IE":0.4,"IT":0.3,"NL":0.04,"PT":0.6},
{"t":2010.49,"AT":0.3,"BE":-0.1,"DE":-0.03,"ES":-0.2,"FR":-0.05,"GR":-1.0,"IE":-0.35,"IT":-0.2,"NL":-0.03,"PT":-0.4},
{"t":2010.52,"AT":-0.05,"BE":0.19,"DE":0.07,"ES":0.3,"FR":0.08,"GR":2.0,"IE":0.5,"IT":0.35,"NL":0.05,"PT":0.5},
{"t":2010.55,"AT":0.1,"BE":-0.12,"DE":-0.04,"ES":-0.15,"FR":-0.06,"GR":-0.8,"IE":-0.3,"IT":-0.15,"NL":-0.04,"PT":-0.3},
{"t":2010.58,"AT":-0.06,"BE":0.1,"DE":0.03,"ES":0.12,"FR":0.04,"GR":0.7,"IE":0.35,"IT":0.15,"NL":0.06,"PT":0.35},
{"t":2010.61,"AT":0.04,"BE":-0.15,"DE":-0.05,"ES":-0.1,"FR":-0.04,"GR":-0.6,"IE":-0.4,"IT":-0.12,"NL":-0.03,"PT":-0.25},
{"t":2010.64,"AT":-0.03,"BE":0.12,"DE":0.02,"ES":0.15,"FR":0.05,"GR":0.5,"IE":0.3,"IT":0.1,"NL":0.03,"PT":0.3},
{"t":2010.67,"AT":0.03,"BE":-0.09,"DE":-0.03,"ES":-0.1,"FR":-0.03,"GR":-0.4,"IE":-0.25,"IT":-0.08,"NL":-0.02,"PT":-0.2},
{"t":2010.7,"AT":-0.04,"BE":0.06,"DE":0.02,"ES":0.1,"FR":0.03,"GR":0.4,"IE":0.3,"IT":0.1,"NL":0.03,"PT":0.25},
{"t":2010.73,"AT":0.03,"BE":-0.1,"DE":-0.02,"ES":-0.12,"FR":-0.03,"GR":-0.3,"IE":-0.35,"IT":-0.08,"NL":-0.02,"PT":-0.3},
{"t":2010.76,"AT":-0.02,"BE":0.08,"DE":0.03,"ES":0.08,"FR":0.04,"GR":0.5,"IE":0.4,"IT":0.12,"NL":0.04,"PT":0.2},
{"t":2010.79,"AT":0.04,"BE":-0.05,"DE":-0.02,"ES":-0.1,"FR":-0.02,"GR":-0.4,"IE":-0.3,"IT":-0.1,"NL":-0.03,"PT":-0.15},
{"t":2010.82,"AT":-0.03,"BE":0.1,"DE":0.015,"ES":0.12,"FR":0.03,"GR":0.3,"IE":0.35,"IT":0.08,"NL":0.02,"PT":0.3},
{"t":2010.85,"AT":0.02,"BE":-0.08,"DE":-0.02,"ES":-0.08,"FR":-0.04,"GR":-0.5,"IE":-0.45,"IT":-0.12,"NL":-0.03,"PT":-0.2},
{"t":2010.88,"AT":-0.03,"BE":0.07,"DE":0.02,"ES":0.1,"FR":0.02,"GR":0.4,"IE":0.3,"IT":0.1,"NL":0.03,"PT":0.25},
{"t":2010.91,"AT":0.03,"BE":-0.06,"DE":-0.015,"ES":-0.12,"FR":-0.03,"GR":-0.3,"IE":-0.25,"IT":-0.08,"NL":-0.02,"PT":-0.3},
{"t":2010.94,"AT":-0.02,"BE":0.09,"DE":0.03,"ES":0.15,"FR":0.04,"GR":0.6,"IE":0.4,"IT":0.12,"NL":0.03,"PT":0.35},
{"t":2010.97,"AT":0.02,"BE":-0.07,"DE":-0.02,"ES":-0.1,"FR":-0.02,"GR":-0.4,"IE":-0.3,"IT":-0.1,"NL":-0.02,"PT":-0.2},
{"t":2011,"AT":0.05,"BE":0.24,"DE":0.04,"ES":0.2,"FR":0.03,"GR":0.5,"IE":0.45,"IT":0.25,"NL":0.07,"PT":0.35},
{"t":2011.03,"AT":-0.03,"BE":-0.12,"DE":-0.03,"ES":-0.5,"FR":-0.09,"GR":-0.6,"IE":-0.4,"IT":-0.45,"NL":-0.04,"PT":-0.65},
{"t":2011.06,"AT":0.04,"BE":0.1,"DE":0.02,"ES":0.15,"FR":0.04,"GR":0.4,"IE":0.3,"IT":0.12,"NL":0.03,"PT":0.3},
{"t":2011.09,"AT":-0.02,"BE":-0.08,"DE":-0.02,"ES":-0.1,"FR":-0.03,"GR":-0.3,"IE":-0.35,"IT":-0.1,"NL":-0.02,"PT":-0.2},
{"t":2011.12,"AT":0.03,"BE":0.16,"DE":0.03,"ES":0.12,"FR":0.05,"GR":0.5,"IE":0.4,"IT":0.15,"NL":0.03,"PT":0.25},
{"t":2011.15,"AT":-0.03,"BE":-0.18,"DE":-0.02,"ES":-0.15,"FR":-0.04,"GR":-0.4,"IE":-0.3,"IT":-0.12,"NL":-0.03,"PT":-0.3},
{"t":2011.18,"AT":0.02,"BE":0.08,"DE":0.015,"ES":0.1,"FR":0.03,"GR":0.3,"IE":0.35,"IT":0.1,"NL":0.02,"PT":0.2},
{"t":2011.21,"AT":-0.02,"BE":-0.1,"DE":-0.03,"ES":-0.08,"FR":-0.02,"GR":-0.5,"IE":-0.55,"IT":-0.08,"NL":-0.03,"PT":-0.25},
{"t":2011.24,"AT":0.03,"BE":0.05,"DE":0.02,"ES":0.12,"FR":0.04,"GR":0.4,"IE":0.3,"IT":0.12,"NL":0.03,"PT":0.2},
{"t":2011.27,"AT":-0.02,"BE":-0.06,"DE":-0.015,"ES":-0.1,"FR":-0.03,"GR":-0.3,"IE":-0.25,"IT":-0.1,"NL":-0.02,"PT":-0.15},
{"t":2011.3,"AT":0.02,"BE":0.09,"DE":0.02,"ES":0.1,"FR":0.03,"GR":0.5,"IE":0.35,"IT":0.1,"NL":0.02,"PT":0.25},
{"t":2011.33,"AT":-0.03,"BE":-0.08,"DE":-0.02,"ES":-0.12,"FR":-0.04,"GR":-0.4,"IE":-0.3,"IT":-0.12,"NL":-0.03,"PT":-0.2},
{"t":2011.36,"AT":0.02,"BE":0.1,"DE":0.03,"ES":0.08,"FR":0.05,"GR":0.6,"IE":0.4,"IT":0.15,"NL":0.02,"PT":0.3},
{"t":2011.39,"AT":-0.02,"BE":-0.12,"DE":-0.015,"ES":-0.1,"FR":-0.03,"GR":-0.5,"IE":-0.35,"IT":-0.1,"NL":-0.02,"PT":-0.25},
{"t":2011.42,"AT":0.04,"BE":0.07,"DE":0.02,"ES":0.12,"FR":0.04,"GR":0.4,"IE":0.3,"IT":0.08,"NL":0.03,"PT":0.2},
{"t":2011.45,"AT":-0.03,"BE":-0.09,"DE":-0.02,"ES":-0.08,"FR":-0.02,"GR":-0.6,"IE":-0.4,"IT":-0.12,"NL":-0.03,"PT":-0.3},
{"t":2011.48,"AT":0.02,"BE":0.11,"DE":0.015,"ES":0.1,"FR":0.03,"GR":0.8,"IE":0.45,"IT":0.1,"NL":0.02,"PT":0.25},
{"t":2011.51,"AT":-0.03,"BE":-0.08,"DE":-0.02,"ES":-0.1,"FR":-0.04,"GR":1.5,"IE":0.5,"IT":-0.08,"NL":-0.03,"PT":-0.2},
{"t":2011.54,"AT":0.03,"BE":0.06,"DE":0.03,"ES":0.08,"FR":0.05,"GR":-0.5,"IE":-0.3,"IT":0.12,"NL":0.03,"PT":0.15},
{"t":2011.57,"AT":0.02,"BE":-0.05,"DE":0.02,"ES":-0.06,"FR":0.03,"GR":0.4,"IE":0.3,"IT":-0.06,"NL":0.03,"PT":-0.1}
]},
"spacing":128,"bounds":"flush",
"resolve":{"scale":{"color":"independent","strokeDash":"independent"},"legend":{"color":"independent","strokeDash":"independent"}},
"vconcat":[
{"width":947,"height":614,"data":{"name":"lv"},
 "mark":{"type":"line","strokeWidth":1,"clip":true},
 "encoding":{
  "x":{"field":"t","type":"quantitative","scale":{"domain":[2008,2011.564],"nice":false,"zero":false},
   "axis":{"values":[2008,2008.25,2008.5,2008.75,2009,2009.25,2009.5,2009.75,2010,2010.25,2010.5,2010.75,2011,2011.25,2011.5],"labelExpr":"datum.value % 1 == 0 ? format(datum.value,'d') : ''"}},
  "y":{"field":"v","type":"quantitative","scale":{"domain":[0,2600],"nice":false},
   "axis":{"values":[0,100,200,300,400,500,600,700,800,900,1000,1100,1200,1300,1400,1500,1600,1700,1800,1900,2000,2100,2200,2300,2400,2500,2600],"labelExpr":"datum.value % 500 == 0 && datum.value > 0 ? format(datum.value,'d') : ''","tickSize":{"condition":{"test":"datum.value % 500 == 0","value":-8},"value":-4},"labelPadding":11}},
  "color":{"field":"s","type":"nominal","scale":{"domain":["AT","BE","DE","ES","FR","GR","IE","IT","NL","PT"],"range":["#000000","#222222","#ff2020","#ff0000","#0000ff","#0000ff","#ff33ff","#ff00ff","#33b033","#00c000"]},
   "legend":{"orient":"none","legendX":98,"legendY":12,"symbolType":"M-2,0H2","symbolSize":400,"labelFontSize":20,"labelOffset":17,"rowPadding":0,
    "encode":{"symbols":{"update":{
     "stroke":{"signal":"({'AT':'#000000','BE':'#222222','DE':'#ff2020','ES':'#ff0000','FR':'#0000ff','GR':'#0000ff','IE':'#ff33ff','IT':'#ff00ff','NL':'#33b033','PT':'#00c000'})[datum.value]"},
     "strokeWidth":{"value":1.2},
     "strokeDash":{"signal":"indexof(['BE','ES','GR','IT','PT'], datum.value) >= 0 ? [8,5] : [100,0]"}}}}}},
  "strokeDash":{"field":"s","type":"nominal","scale":{"domain":["AT","BE","DE","ES","FR","GR","IE","IT","NL","PT"],"range":[[1,0],[8,5],[1,0],[8,5],[1,0],[8,5],[1,0],[8,5],[1,0],[8,5]]},"legend":null}
 }},
{"hconcat":[
 {"vconcat":[
  {"width":449,"height":87,"data":{"name":"rt"},"layer":[
   {"mark":{"type":"line","strokeWidth":1,"clip":true},"encoding":{
    "x":{"field":"t","type":"quantitative","scale":{"domain":[2008,2011.6],"nice":false,"zero":false},"axis":{"values":[2008,2008.25,2008.5,2008.75,2009,2009.25,2009.5,2009.75,2010,2010.25,2010.5,2010.75,2011,2011.25,2011.5],"labelExpr":"datum.value % 1 == 0 ? format(datum.value,'d') : ''"}},
    "y":{"field":"AT","type":"quantitative","scale":{"domain":[-0.372,0.51],"nice":false,"zero":false},"axis":{"values":[-0.25,0.25],"format":".2f"}},
    "color":{"datum":"Austria","type":"nominal","scale":{"range":["#ff0000"]}}}},
   {"data":{"values":[{}]},"mark":{"type":"rule","color":"#a0a0a0","strokeWidth":0.6},"encoding":{"y":{"datum":0}}}]},
  {"width":449,"height":87,"data":{"name":"rt"},"layer":[
   {"mark":{"type":"line","strokeWidth":1,"clip":true},"encoding":{
    "x":{"field":"t","type":"quantitative","scale":{"domain":[2008,2011.6],"nice":false,"zero":false},"axis":{"values":[2008,2008.25,2008.5,2008.75,2009,2009.25,2009.5,2009.75,2010,2010.25,2010.5,2010.75,2011,2011.25,2011.5],"labelExpr":"datum.value % 1 == 0 ? format(datum.value,'d') : ''"}},
    "y":{"field":"DE","type":"quantitative","scale":{"domain":[-0.1,0.1],"nice":false,"zero":false},"axis":{"values":[0,0.1],"format":".1f"}},
    "color":{"datum":"Germany","type":"nominal","scale":{"range":["#ff0000"]}}}},
   {"data":{"values":[{}]},"mark":{"type":"rule","color":"#a0a0a0","strokeWidth":0.6},"encoding":{"y":{"datum":0}}}]},
  {"width":449,"height":87,"data":{"name":"rt"},"layer":[
   {"mark":{"type":"line","strokeWidth":1,"clip":true},"encoding":{
    "x":{"field":"t","type":"quantitative","scale":{"domain":[2008,2011.6],"nice":false,"zero":false},"axis":{"values":[2008,2008.25,2008.5,2008.75,2009,2009.25,2009.5,2009.75,2010,2010.25,2010.5,2010.75,2011,2011.25,2011.5],"labelExpr":"datum.value % 1 == 0 ? format(datum.value,'d') : ''"}},
    "y":{"field":"FR","type":"quantitative","scale":{"domain":[-0.145,0.152],"nice":false,"zero":false},"axis":{"values":[-0.1,0.1],"format":".1f"}},
    "color":{"datum":"France","type":"nominal","scale":{"range":["#ff0000"]}}}},
   {"data":{"values":[{}]},"mark":{"type":"rule","color":"#a0a0a0","strokeWidth":0.6},"encoding":{"y":{"datum":0}}}]},
  {"width":449,"height":87,"data":{"name":"rt"},"layer":[
   {"mark":{"type":"line","strokeWidth":1,"clip":true},"encoding":{
    "x":{"field":"t","type":"quantitative","scale":{"domain":[2008,2011.6],"nice":false,"zero":false},"axis":{"values":[2008,2008.25,2008.5,2008.75,2009,2009.25,2009.5,2009.75,2010,2010.25,2010.5,2010.75,2011,2011.25,2011.5],"labelExpr":"datum.value % 1 == 0 ? format(datum.value,'d') : ''"}},
    "y":{"field":"IE","type":"quantitative","scale":{"domain":[-1.01,0.765],"nice":false,"zero":false},"axis":{"values":[-0.5,0.5],"format":".1f"}},
    "color":{"datum":"Ireland","type":"nominal","scale":{"range":["#ff0000"]}}}},
   {"data":{"values":[{}]},"mark":{"type":"rule","color":"#a0a0a0","strokeWidth":0.6},"encoding":{"y":{"datum":0}}}]},
  {"width":449,"height":87,"data":{"name":"rt"},"layer":[
   {"mark":{"type":"line","strokeWidth":1,"clip":true},"encoding":{
    "x":{"field":"t","type":"quantitative","scale":{"domain":[2008,2011.6],"nice":false,"zero":false},"axis":{"values":[2008,2008.25,2008.5,2008.75,2009,2009.25,2009.5,2009.75,2010,2010.25,2010.5,2010.75,2011,2011.25,2011.5],"labelExpr":"datum.value % 1 == 0 ? format(datum.value,'d') : ''"}},
    "y":{"field":"NL","type":"quantitative","scale":{"domain":[-0.206,0.301],"nice":false,"zero":false},"axis":{"values":[-0.1,0,0.1,0.2],"format":".1f","labelExpr":"datum.value == 0 || datum.value == 0.2 ? datum.label : ''","tickSize":{"condition":{"test":"datum.value == 0 || datum.value == 0.2","value":-7},"value":-4}}},
    "color":{"datum":"Netherlands","type":"nominal","scale":{"range":["#ff0000"]}}}},
   {"data":{"values":[{}]},"mark":{"type":"rule","color":"#a0a0a0","strokeWidth":0.6},"encoding":{"y":{"datum":0}}}]}
 ],"spacing":45,"bounds":"flush","resolve":{"scale":{"color":"independent"},"legend":{"color":"independent"}}},
 {"vconcat":[
  {"width":441,"height":87,"data":{"name":"rt"},"layer":[
   {"mark":{"type":"line","strokeWidth":1,"clip":true},"encoding":{
    "x":{"field":"t","type":"quantitative","scale":{"domain":[2008,2011.53],"nice":false,"zero":false},"axis":{"values":[2008,2008.25,2008.5,2008.75,2009,2009.25,2009.5,2009.75,2010,2010.25,2010.5,2010.75,2011,2011.25,2011.5],"labelExpr":"datum.value % 1 == 0 ? format(datum.value,'d') : ''"}},
    "y":{"field":"BE","type":"quantitative","scale":{"domain":[-0.294,0.303],"nice":false,"zero":false},"axis":{"values":[-0.2,0.2],"format":".1f"}},
    "color":{"datum":"Belgium","type":"nominal","scale":{"range":["#ff0000"]}}}},
   {"data":{"values":[{}]},"mark":{"type":"rule","color":"#a0a0a0","strokeWidth":0.6},"encoding":{"y":{"datum":0}}}]},
  {"width":441,"height":87,"data":{"name":"rt"},"layer":[
   {"mark":{"type":"line","strokeWidth":1,"clip":true},"encoding":{
    "x":{"field":"t","type":"quantitative","scale":{"domain":[2008,2011.53],"nice":false,"zero":false},"axis":{"values":[2008,2008.25,2008.5,2008.75,2009,2009.25,2009.5,2009.75,2010,2010.25,2010.5,2010.75,2011,2011.25,2011.5],"labelExpr":"datum.value % 1 == 0 ? format(datum.value,'d') : ''"}},
    "y":{"field":"ES","type":"quantitative","scale":{"domain":[-0.98,0.74],"nice":false,"zero":false},"axis":{"values":[-0.5,0.5],"format":".1f"}},
    "color":{"datum":"Spain","type":"nominal","scale":{"range":["#ff0000"]}}}},
   {"data":{"values":[{}]},"mark":{"type":"rule","color":"#a0a0a0","strokeWidth":0.6},"encoding":{"y":{"datum":0}}}]},
  {"width":441,"height":87,"data":{"name":"rt"},"layer":[
   {"mark":{"type":"line","strokeWidth":1,"clip":true},"encoding":{
    "x":{"field":"t","type":"quantitative","scale":{"domain":[2008,2011.53],"nice":false,"zero":false},"axis":{"values":[2008,2008.25,2008.5,2008.75,2009,2009.25,2009.5,2009.75,2010,2010.25,2010.5,2010.75,2011,2011.25,2011.5],"labelExpr":"datum.value % 1 == 0 ? format(datum.value,'d') : ''"}},
    "y":{"field":"GR","type":"quantitative","scale":{"domain":[-3.62,3.79],"nice":false,"zero":false},"axis":{"values":[-2.5,2.5],"format":".1f"}},
    "color":{"datum":"Greece","type":"nominal","scale":{"range":["#ff0000"]}}}},
   {"data":{"values":[{}]},"mark":{"type":"rule","color":"#a0a0a0","strokeWidth":0.6},"encoding":{"y":{"datum":0}}}]},
  {"width":441,"height":87,"data":{"name":"rt"},"layer":[
   {"mark":{"type":"line","strokeWidth":1,"clip":true},"encoding":{
    "x":{"field":"t","type":"quantitative","scale":{"domain":[2008,2011.53],"nice":false,"zero":false},"axis":{"values":[2008,2008.25,2008.5,2008.75,2009,2009.25,2009.5,2009.75,2010,2010.25,2010.5,2010.75,2011,2011.25,2011.5],"labelExpr":"datum.value % 1 == 0 ? format(datum.value,'d') : ''"}},
    "y":{"field":"IT","type":"quantitative","scale":{"domain":[-1.0,0.5],"nice":false,"zero":false},"axis":{"values":[-0.5,0.5],"format":".1f"}},
    "color":{"datum":"Italy","type":"nominal","scale":{"range":["#ff0000"]}}}},
   {"data":{"values":[{}]},"mark":{"type":"rule","color":"#a0a0a0","strokeWidth":0.6},"encoding":{"y":{"datum":0}}}]},
  {"width":441,"height":87,"data":{"name":"rt"},"layer":[
   {"mark":{"type":"line","strokeWidth":1,"clip":true},"encoding":{
    "x":{"field":"t","type":"quantitative","scale":{"domain":[2008,2011.53],"nice":false,"zero":false},"axis":{"values":[2008,2008.25,2008.5,2008.75,2009,2009.25,2009.5,2009.75,2010,2010.25,2010.5,2010.75,2011,2011.25,2011.5],"labelExpr":"datum.value % 1 == 0 ? format(datum.value,'d') : ''"}},
    "y":{"field":"PT","type":"quantitative","scale":{"domain":[-2.02,1.0],"nice":false,"zero":false},"axis":{"values":[-1,1],"format":"d"}},
    "color":{"datum":"Portugal","type":"nominal","scale":{"range":["#ff0000"]}}}},
   {"data":{"values":[{}]},"mark":{"type":"rule","color":"#a0a0a0","strokeWidth":0.6},"encoding":{"y":{"datum":0}}}]}
 ],"spacing":45,"bounds":"flush","resolve":{"scale":{"color":"independent"},"legend":{"color":"independent"}}}
],"spacing":19,"resolve":{"scale":{"color":"independent"},"legend":{"color":"independent"}}}
]}
